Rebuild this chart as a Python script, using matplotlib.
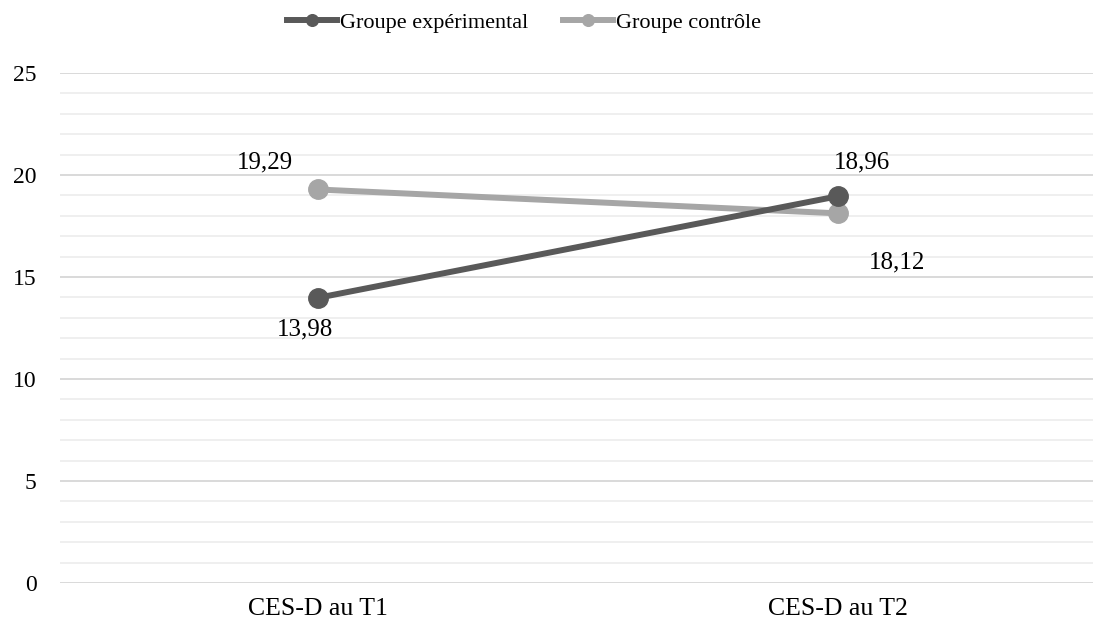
import numpy as np
import matplotlib
matplotlib.use("Agg")
from matplotlib import pyplot as plt
from matplotlib.ticker import MultipleLocator

categories = ['CES-D au T1', 'CES-D au T2']
exp_values = [13.98, 18.96]
ctrl_values = [19.29, 18.12]
series_names = ['Groupe expérimental', 'Groupe contrôle']

plt.rcParams['font.family'] = ['Liberation Serif', 'DejaVu Serif']

fig = plt.figure(figsize=(10.93, 6.28), dpi=100)
ax = fig.add_axes([60 / 1093, 1 - 583 / 628, 1 - 60 / 1093, (583 - 73) / 628])

x = np.arange(len(categories))
dark = '#595959'
light = '#A6A6A6'

ax.plot(x, ctrl_values, color=light, lw=4.3, marker='o', ms=14, label=series_names[1], zorder=3)
ax.plot(x, exp_values, color=dark, lw=4.3, marker='o', ms=14, label=series_names[0], zorder=4)

def fmt(v):
    return ('%.2f' % v).replace('.', ',')

# label offsets in pixels (exp T1, exp T2, ctrl T1, ctrl T2)
offs_exp = [(-13, -32), (24, 34)]
offs_ctrl = [(-53, 27), (59, -49)]
for i in range(len(categories)):
    ax.annotate(fmt(exp_values[i]), (x[i], exp_values[i]), xytext=offs_exp[i],
                textcoords='offset pixels', ha='center', va='center', fontsize=18)
    ax.annotate(fmt(ctrl_values[i]), (x[i], ctrl_values[i]), xytext=offs_ctrl[i],
                textcoords='offset pixels', ha='center', va='center', fontsize=18)

ax.set_xlim(-258 / 520, 1 + (1093 - 838) / 520)
ax.set_ylim(0, 25)
ax.yaxis.set_major_locator(MultipleLocator(5))
ax.yaxis.set_minor_locator(MultipleLocator(1))
ax.grid(which='major', axis='y', color='#D9D9D9', lw=1.4)
ax.grid(which='minor', axis='y', color='#EFEFEF', lw=1.4)
ax.set_axisbelow(True)
ax.set_xticks(x)
ax.set_xticklabels(categories, fontsize=18.5)
ax.tick_params(axis='y', labelsize=17, length=0, pad=17)
ax.tick_params(axis='x', length=0, pad=11)
ax.tick_params(which='minor', length=0)
for s in ax.spines.values():
    s.set_visible(False)

h, l = ax.get_legend_handles_labels()
fig.legend(h[::-1], l[::-1], loc='center', bbox_to_anchor=(524 / 1093, 1 - 23 / 628), ncol=2,
           frameon=False, fontsize=16, handlelength=2.25, handletextpad=0.13,
           columnspacing=1.6, numpoints=1, markerscale=0.6)

fig.savefig('out.png', dpi=100)
